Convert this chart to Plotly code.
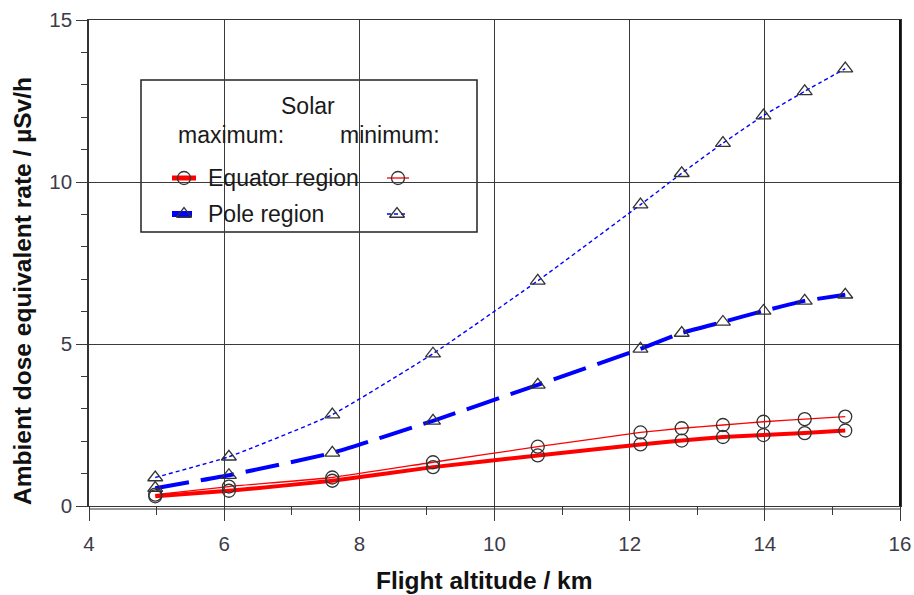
import plotly.graph_objects as go

# ---- data ----
altitude_km = [4.98, 6.07, 7.6, 9.09, 10.64, 12.16, 12.77, 13.38, 13.98, 14.59, 15.19]
equator_max = [0.30, 0.47, 0.78, 1.20, 1.56, 1.90, 2.02, 2.13, 2.19, 2.25, 2.33]
equator_min = [0.35, 0.60, 0.88, 1.35, 1.83, 2.27, 2.40, 2.50, 2.60, 2.68, 2.76]
pole_max = [0.55, 0.95, 1.64, 2.63, 3.74, 4.85, 5.34, 5.68, 6.02, 6.33, 6.52]
pole_min = [0.88, 1.52, 2.82, 4.70, 6.95, 9.30, 10.27, 11.20, 12.05, 12.80, 13.50]

x_ticks = [4, 6, 8, 10, 12, 14, 16]
y_ticks = [0, 5, 10, 15]

# ---- layout geometry (pixels) ----
W, H = 914, 595
L, R, T, B = 89, 900, 20, 506
FONT = "Liberation Sans, Arial, sans-serif"
GRID = "#3a3a3a"
TICKC = "#3a3a3a"
MARK = "#333333"

fig = go.Figure()

series = [
    (equator_min, "red", 1.3, "solid", "circle-open"),
    (equator_max, "red", 4.0, "solid", "circle-open"),
    (pole_min, "blue", 1.4, "4px,3px", "triangle-up-open"),
    (pole_max, "blue", 4.0, "34px,12px", "triangle-up-open"),
]
for ys, col, w, dash, sym in series:
    fig.add_trace(go.Scatter(
        x=altitude_km, y=ys, mode="lines",
        line=dict(color=col, width=w, dash=dash, shape="spline", smoothing=0.4),
        hoverinfo="skip", showlegend=False))
for ys, col, w, dash, sym in series:
    fig.add_trace(go.Scatter(
        x=altitude_km, y=ys, mode="markers",
        marker=dict(symbol=sym, size=13, color=MARK, line=dict(width=1.3, color=MARK)),
        hoverinfo="skip", showlegend=False))

# ---- legend samples drawn in pixel coordinates on an overlay axis ----
leg_rows = [
    # (y, x0, x1, marker x, color, width, dash, symbol)
    (178, 172, 196, 184, "red", 5.0, "solid", "circle-open"),
    (214, 172, 192, 184, "blue", 6.0, "solid", "triangle-up-open"),
    (178, 387, 409, 398, "red", 1.3, "solid", "circle-open"),
    (214, 387, 408, 397, "blue", 1.4, "4px,3px", "triangle-up-open"),
]
for yy, x0, x1, xm, col, w, dash, sym in leg_rows:
    fig.add_trace(go.Scatter(
        x=[x0, x1], y=[yy, yy], mode="lines", xaxis="x2", yaxis="y2",
        line=dict(color=col, width=w, dash=dash), hoverinfo="skip", showlegend=False))
    fig.add_trace(go.Scatter(
        x=[xm], y=[yy], mode="markers", xaxis="x2", yaxis="y2",
        marker=dict(symbol=sym, size=13, color=MARK, line=dict(width=1.3, color=MARK)),
        hoverinfo="skip", showlegend=False))


def to_paper_x(p):
    return (p - L) / (R - L)


def to_paper_y(p):
    return (B - p) / (B - T)


shapes = [
    # white mask around legend (covers gridlines)
    dict(type="rect", xref="paper", yref="paper", layer="between",
         x0=to_paper_x(138), x1=to_paper_x(494), y0=to_paper_y(153), y1=to_paper_y(237),
         fillcolor="white", line=dict(width=0)),
    dict(type="rect", xref="paper", yref="paper", layer="between",
         x0=to_paper_x(141), x1=to_paper_x(477), y0=to_paper_y(80), y1=to_paper_y(232),
         fillcolor="white", line=dict(color="#222222", width=1.5)),
    # second bottom line (double axis line)
    dict(type="line", xref="paper", yref="paper", ysizemode="pixel", yanchor=0,
         x0=0, x1=1, y0=-3, y1=-3, line=dict(color="#333333", width=1.2), layer="above"),
    # thicker right border
    dict(type="line", xref="paper", yref="paper", x0=1, x1=1, y0=0, y1=1,
         line=dict(color="#111111", width=2), layer="above"),
]

ann_font = dict(family=FONT, size=23, color="#1a1a1a")


def ann(text, px, py, **kw):
    d = dict(text=text, x=to_paper_x(px), y=to_paper_y(py), xref="paper", yref="paper",
             xanchor="center", yanchor="middle", showarrow=False, font=ann_font)
    d.update(kw)
    return d


title_font = dict(family=FONT, size=24.5, color="#111111")
annotations = [
    ann("Solar", 308, 106),
    ann("maximum:", 231, 135),
    ann("minimum:", 390, 135),
    ann("Equator region", 206, 178, xanchor="left"),
    ann("Pole region", 206, 214, xanchor="left"),
    ann("<b>Flight altitude / km</b>", 484, 580, font=title_font),
    ann("<b>Ambient dose equivalent rate / µSv/h</b>", 22, 291, textangle=-90, font=title_font),
]

tickfont = dict(family=FONT, size=20.5, color="#3c3c48")

fig.update_layout(
    width=W, height=H, autosize=False,
    margin=dict(l=L, r=W - R, t=T, b=H - B, pad=0),
    paper_bgcolor="white", plot_bgcolor="white",
    showlegend=False,
    shapes=shapes, annotations=annotations,
    xaxis=dict(
        range=[4, 16], tickvals=x_ticks, ticktext=[str(v) for v in x_ticks],
        automargin=False, ticklabelstandoff=5,
        ticks="outside", ticklen=14, tickwidth=1.3, tickcolor=TICKC,
        showgrid=True, gridcolor=GRID, gridwidth=1.3, zeroline=False,
        showline=True, linecolor="#333333", linewidth=1.3, mirror=True,
        tickfont=tickfont,
        minor=dict(dtick=1, tick0=0, ticks="outside", ticklen=8, tickwidth=1.3,
                   tickcolor=TICKC, showgrid=False),
    ),
    yaxis=dict(
        range=[0, 15], tickvals=y_ticks, ticktext=[str(v) for v in y_ticks],
        automargin=False,
        ticks="outside", ticklen=11, tickwidth=1.3, tickcolor=TICKC,
        showgrid=True, gridcolor=GRID, gridwidth=1.3, zeroline=False,
        showline=True, linecolor="#333333", linewidth=1.5, mirror=True,
        tickfont=tickfont,
        minor=dict(dtick=1, tick0=0, ticks="outside", ticklen=6, tickwidth=1.3,
                   tickcolor=TICKC, showgrid=False),
    ),
    xaxis2=dict(range=[L, R], overlaying="x", visible=False, fixedrange=True, automargin=False),
    yaxis2=dict(range=[B, T], overlaying="y", visible=False, fixedrange=True, automargin=False),
)

fig.write_html(
    "out.html",
    config={"responsive": False, "displayModeBar": False},
    post_script="document.body.style.margin='0px';",
)
